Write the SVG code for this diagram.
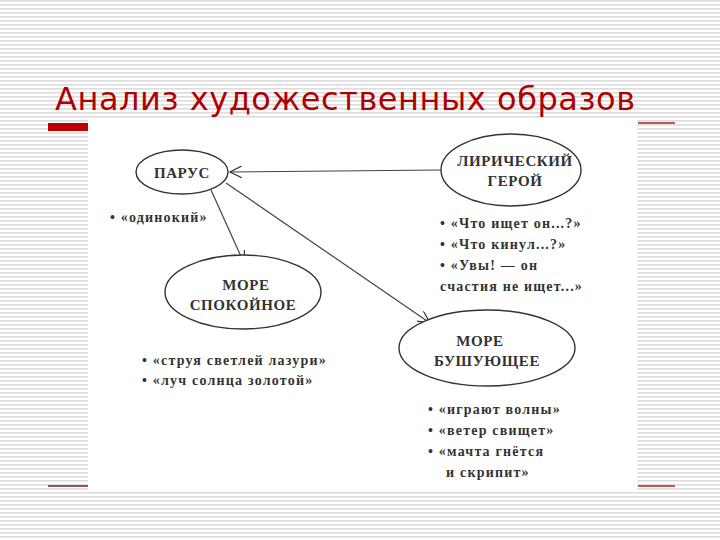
<svg xmlns="http://www.w3.org/2000/svg" width="720" height="540" viewBox="0 0 720 540">
<defs>
<pattern id="stripes" width="8" height="4" patternUnits="userSpaceOnUse">
<rect width="8" height="4" fill="#fff"/><rect y="0" width="8" height="1.6" fill="#dcdcdc"/>
</pattern>
<marker id="ah" markerWidth="14" markerHeight="12" refX="12" refY="6" orient="auto" markerUnits="userSpaceOnUse">
<path d="M0,0 L12,6 L0,12" fill="none" stroke="#333" stroke-width="1.2"/>
</marker>
</defs>
<style>
.n{fill:#fff;stroke:#333;stroke-width:1.4}
.t{font-family:"Liberation Serif",serif;font-weight:bold;font-size:15px;fill:#333;text-anchor:middle;letter-spacing:0.6px}
.b{font-family:"Liberation Serif",serif;font-weight:bold;font-size:14px;fill:#333;letter-spacing:1.2px}
.c{stroke:#444;stroke-width:1.2;fill:none;marker-end:url(#ah)}
</style>
<rect width="720" height="540" fill="url(#stripes)"/>
<rect x="88" y="120" width="549" height="371" fill="#fff"/>
<text x="55" y="110" font-family="Verdana, 'DejaVu Sans', sans-serif" font-size="32" fill="#b00000" textLength="580">Анализ художественных образов</text>
<rect x="48" y="123" width="40" height="8" fill="#c00000"/>
<line x1="638" y1="123" x2="675" y2="123" stroke="#b02020" stroke-width="1.3"/>
<line x1="48" y1="486" x2="88" y2="486" stroke="#702020" stroke-width="1.3"/>
<line x1="638" y1="486" x2="675" y2="486" stroke="#b02020" stroke-width="1.3"/>
<g id="connectors">
<path class="c" d="M441,170 L230,172"/>
<path class="c" d="M211,190 L244,263"/>
<path class="c" d="M226,183 L430,323"/>
</g>
<g id="parus"><ellipse class="n" cx="182" cy="172" rx="46" ry="22"/><text class="t" x="182" y="178">ПАРУС</text></g>
<g id="geroi"><ellipse class="n" cx="511" cy="170" rx="70" ry="36"/><text class="t" x="515" y="166">ЛИРИЧЕСКИЙ</text><text class="t" x="515" y="186">ГЕРОЙ</text></g>
<g id="more1"><ellipse class="n" cx="243" cy="292" rx="78" ry="37"/><text class="t" x="246" y="290">МОРЕ</text><text class="t" x="243" y="310">СПОКОЙНОЕ</text></g>
<g id="more2"><ellipse class="n" cx="487" cy="348" rx="88" ry="38"/><text class="t" x="480" y="346">МОРЕ</text><text class="t" x="487" y="366">БУШУЮЩЕЕ</text></g>
<g id="labels">
<text class="b" x="110" y="222">• «одинокий»</text>
<text class="b" x="440" y="228">• «Что ищет он...?»</text>
<text class="b" x="440" y="249">• «Что кинул...?»</text>
<text class="b" x="440" y="270">• «Увы! — он</text>
<text class="b" x="440" y="291">счастия не ищет...»</text>
<text class="b" x="142" y="365">• «струя светлей лазури»</text>
<text class="b" x="142" y="385">• «луч солнца золотой»</text>
<text class="b" x="428" y="414">• «играют волны»</text>
<text class="b" x="428" y="435">• «ветер свищет»</text>
<text class="b" x="428" y="456">• «мачта гнётся</text>
<text class="b" x="446" y="477">и скрипит»</text>
</g>
</svg>
